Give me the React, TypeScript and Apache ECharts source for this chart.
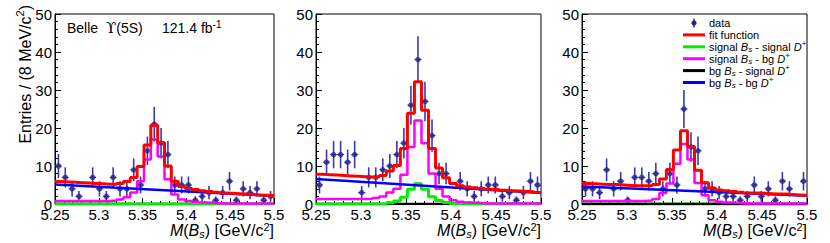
import React, { useEffect, useRef } from "react";
import * as echarts from "echarts";

// ---------- axis ranges ----------
const X_MIN = 5.25;
const X_MAX = 5.5;
const X_STEP = 0.05;
const Y_MIN = 0;
const Y_MAX = 50;
const Y_STEP = 10;

// ---------- panel 1 (32 bins, 5.25 - 5.50 GeV) ----------
const data1 = [10, 7, 4, 2, 0, 7, 4, 2, 7, 4, 4, 9, 5, 14, 21, 16, 13, 5, 5, 5, 1, 2, 3, 1, 3, 6, 1, 4, 3, 4, 1, 2];
const fit1 = [5.9, 5.8, 5.7, 5.6, 5.5, 5.4, 5.3, 5.2, 5.2, 5.4, 5.9, 7.0, 9.9, 15.5, 20.7, 16.1, 10.0, 6.0, 4.6, 4.1, 3.8, 3.5, 3.3, 3.1, 2.9, 2.8, 2.7, 2.6, 2.5, 2.4, 2.3, 2.2];
const sigSig1 = [0, 0, 0, 0, 0, 0, 0, 0, 0, 0, 0, 0, 0, 0, 0, 0, 0, 0, 0, 0, 0, 0, 0, 0, 0, 0, 0, 0, 0, 0, 0, 0];
const sigBg1 = [0.8, 0.8, 0.8, 0.8, 0.8, 0.8, 0.8, 0.8, 0.9, 1.2, 1.8, 3.0, 6.0, 11.7, 17.0, 12.5, 6.5, 2.5, 1.2, 0.8, 0.6, 0.4, 0.3, 0.2, 0.1, 0.1, 0.1, 0.1, 0.1, 0.1, 0.1, 0.1];
const bgSig1 = [0, 0, 0, 0, 0, 0, 0, 0, 0, 0, 0, 0, 0, 0, 0, 0, 0, 0, 0, 0, 0, 0, 0, 0, 0, 0, 0, 0, 0, 0, 0, 0];
const bgBg1 = [5.1, 2.1]; // values at 5.25 and 5.50

// ---------- panel 2 ----------
const data2 = [5, 11, 13, 13, 11, 13, 3, 7, 7, 9, 10, 13, 16, 26, 38, 27, 18, 8, 8, 0, 6, 4, 2, 4, 5, 5, 2, 3, 1, 3, 6, 5];
const fit2 = [7.8, 7.7, 7.6, 7.5, 7.4, 7.3, 7.2, 7.1, 7.2, 7.5, 8.7, 10.1, 14.6, 23.9, 32.2, 24.7, 14.6, 9.5, 6.9, 5.4, 4.8, 4.5, 4.3, 4.1, 3.9, 3.8, 3.6, 3.5, 3.4, 3.3, 3.2, 3.0];
const sigSig2 = [0, 0, 0, 0, 0, 0, 0, 0, 0, 0, 0.3, 0.8, 1.8, 3.9, 5.3, 3.9, 1.9, 0.9, 0.4, 0.1, 0, 0, 0, 0, 0, 0, 0, 0, 0, 0, 0, 0];
const sigBg2 = [1.3, 1.3, 1.3, 1.3, 1.3, 1.3, 1.3, 1.4, 1.6, 2.0, 3.0, 4.0, 7.7, 15.0, 22.0, 16.0, 8.0, 4.0, 2.0, 1.0, 0.6, 0.4, 0.3, 0.2, 0.1, 0.1, 0.1, 0.1, 0.1, 0.1, 0.1, 0.1];
const bgSig2 = [0, 0, 0, 0, 0, 0, 0, 0, 0, 0, 0, 0, 0, 0, 0, 0, 0, 0, 0, 0, 0, 0, 0, 0, 0, 0, 0, 0, 0, 0, 0, 0];
const bgBg2 = [6.6, 2.9];

// ---------- panel 3 ----------
const data3 = [4, 4, 3, 9, 4, 6, 1, 7, 7, 6, 8, 4, 8, 5, 25, 15, 14, 4, 4, 3, 2, 2, 1, 2, 5, 2, 4, 1, 6, 4, 0, 6];
const fit3 = [5.4, 5.3, 5.2, 5.1, 5.1, 5.0, 4.9, 4.8, 4.8, 4.8, 5.1, 6.6, 9.1, 14.2, 19.3, 15.1, 8.9, 5.6, 4.2, 3.7, 3.5, 3.3, 3.1, 2.9, 2.9, 2.8, 2.7, 2.6, 2.6, 2.5, 2.4, 2.3];
const sigSig3 = [0, 0, 0, 0, 0, 0, 0, 0, 0, 0, 0, 0, 0, 0, 0, 0, 0, 0, 0, 0, 0, 0, 0, 0, 0, 0, 0, 0, 0, 0, 0, 0];
const sigBg3 = [0.8, 0.8, 0.8, 0.8, 0.8, 0.8, 0.8, 0.8, 0.8, 0.9, 1.3, 2.9, 5.4, 10.6, 15.8, 11.7, 5.5, 2.3, 1.0, 0.6, 0.4, 0.3, 0.2, 0.1, 0.1, 0.1, 0.1, 0.1, 0.1, 0.1, 0.1, 0.1];
const bgSig3 = [0, 0, 0, 0, 0, 0, 0, 0, 0, 0, 0, 0, 0, 0, 0, 0, 0, 0, 0, 0, 0, 0, 0, 0, 0, 0, 0, 0, 0, 0, 0, 0];
const bgBg3 = [4.6, 2.2];

// ---------- texts ----------
const Y_TITLE = "Entries / (8 MeV/c{sup|2})";
const X_TITLE = "{i|M}({i|B}{sub|s}) [GeV/c{sup|2}]";
const BELLE = ["Belle", "{ups|\u03D2}(5S)", "121.4 fb{sup|-1}"];
const LEGEND = [
  "data",
  "fit function",
  "signal {i|B}{sub|s} - signal {i|D}{sup|+}",
  "signal {i|B}{sub|s} - bg {i|D}{sup|+}",
  "bg {i|B}{sub|s} - signal {i|D}{sup|+}",
  "bg {i|B}{sub|s} - bg {i|D}{sup|+}",
];

// ---------- styles ----------
const FONT = '"Liberation Sans", Arial, Helvetica, "DejaVu Sans", sans-serif';
const SERIF = '"DejaVu Serif", "Liberation Serif", serif';
const C_DATA = "#2b2487";
const C_ERR = "#3a3ab4";
const C_FIT = "#ff0000";
const C_SIGSIG = "#00ee00";
const C_SIGBG = "#ff00ff";
const C_BGSIG = "#000000";
const C_BGBG = "#0000ff";

const PANELS = [
  { left: 55, width: 219, data: data1, fit: fit1, sigSig: sigSig1, sigBg: sigBg1, bgSig: bgSig1, bgBg: bgBg1, blackTop: false },
  { left: 316, width: 225, data: data2, fit: fit2, sigSig: sigSig2, sigBg: sigBg2, bgSig: bgSig2, bgBg: bgBg2, blackTop: false },
  { left: 582, width: 225, data: data3, fit: fit3, sigSig: sigSig3, sigBg: sigBg3, bgSig: bgSig3, bgBg: bgBg3, blackTop: true },
];
const GRID_TOP = 14;
const GRID_H = 190;

function binWidth(n: number) {
  return (X_MAX - X_MIN) / n;
}
function stepData(vals: number[]) {
  const w = binWidth(vals.length);
  const pts = vals.map((v, k) => [X_MIN + k * w, v]);
  pts.push([X_MAX, vals[vals.length - 1]]);
  return pts;
}
function pointData(vals: number[]) {
  const w = binWidth(vals.length);
  return vals.map((v, k) => [X_MIN + (k + 0.5) * w, v]).filter((p) => p[1] > 0);
}

function rich(size: number, small: number, lh: number) {
  return {
    i: { fontStyle: "italic", fontSize: size, fontFamily: FONT, fill: "#000", lineHeight: lh },
    ups: { fontSize: size + 1, fontFamily: SERIF, fill: "#000", lineHeight: lh },
    sub: { fontStyle: "italic", fontSize: small, fontFamily: FONT, fill: "#000", verticalAlign: "bottom", lineHeight: small },
    sup: { fontSize: small, fontFamily: FONT, fill: "#000", verticalAlign: "top", lineHeight: small },
  };
}

function txt(x: number, y: number, text: string, size: number, small: number, align: string, vAlign: string, extra: any = {}, lhIn?: number) {
  const lh = lhIn || Math.round(size * 1.3);
  return {
    type: "text",
    x,
    y,
    silent: true,
    ...extra,
    style: {
      text,
      fill: "#000",
      fontSize: size,
      fontFamily: FONT,
      lineHeight: lh,
      align,
      verticalAlign: vAlign,
      textAlign: align,
      textVerticalAlign: vAlign,
      rich: rich(size, small, lh),
    },
  };
}

function lineSeries(i: number, name: string, d: any[], color: string, width: number, step: boolean) {
  return {
    type: "line",
    name,
    xAxisIndex: i,
    yAxisIndex: i,
    data: d,
    step: step ? "end" : false,
    symbol: "none",
    showSymbol: false,
    color,
    lineStyle: { color, width },
    silent: true,
    clip: true,
  };
}

function buildOption() {
  const grid: any[] = [];
  const xAxis: any[] = [];
  const yAxis: any[] = [];
  const series: any[] = [];
  const graphic: any[] = [];

  PANELS.forEach((p, i) => {
    grid.push({
      left: p.left,
      top: GRID_TOP,
      width: p.width,
      height: GRID_H,
      show: true,
      borderColor: "#000",
      borderWidth: 1,
      backgroundColor: "transparent",
      containLabel: false,
      outerBoundsMode: "none",
    });
    xAxis.push({
      type: "value",
      gridIndex: i,
      min: X_MIN,
      max: X_MAX,
      interval: X_STEP,
      axisLine: { show: true, lineStyle: { color: "#000", width: 1 } },
      axisTick: { show: true, inside: true, length: 6, lineStyle: { color: "#000" } },
      minorTick: { show: true, splitNumber: 5, length: 3, lineStyle: { color: "#000" } },
      splitLine: { show: false },
      minorSplitLine: { show: false },
      axisLabel: {
        color: "#000",
        fontSize: 15,
        lineHeight: 14,
        fontFamily: FONT,
        margin: 3,
        hideOverlap: false,
        formatter: (v: number) => String(Math.round(v * 100) / 100),
      },
    });
    yAxis.push({
      type: "value",
      gridIndex: i,
      min: Y_MIN,
      max: Y_MAX,
      interval: Y_STEP,
      axisLine: { show: true, lineStyle: { color: "#000", width: 1 } },
      axisTick: { show: true, inside: true, length: 6, lineStyle: { color: "#000" } },
      minorTick: { show: true, splitNumber: 5, length: 3, lineStyle: { color: "#000" } },
      splitLine: { show: false },
      minorSplitLine: { show: false },
      axisLabel: { color: "#000", fontSize: 15, fontFamily: FONT, margin: 3 },
    });

    const w = binWidth(p.data.length);
    const green = lineSeries(i, "signal Bs - signal D+", stepData(p.sigSig), C_SIGSIG, 3, true);
    const black = lineSeries(i, "bg Bs - signal D+", stepData(p.bgSig), C_BGSIG, 2.5, true);
    if (p.blackTop) series.push(green, black);
    else series.push(black, green);
    series.push(lineSeries(i, "signal Bs - bg D+", stepData(p.sigBg), C_SIGBG, 2.5, true));
    series.push(lineSeries(i, "bg Bs - bg D+", [[X_MIN, p.bgBg[0]], [X_MAX, p.bgBg[1]]], C_BGBG, 2.5, false));
    series.push(lineSeries(i, "fit function", stepData(p.fit), C_FIT, 3, true));
    series.push({
      type: "custom",
      name: "data errors",
      coordinateSystem: "cartesian2d",
      xAxisIndex: i,
      yAxisIndex: i,
      silent: true,
      clip: true,
      encode: { x: 0, y: 1 },
      data: pointData(p.data),
      renderItem: (_params: any, api: any) => {
        const x = api.value(0);
        const y = api.value(1);
        const e = Math.sqrt(y);
        const top = api.coord([x, y + e]);
        const bot = api.coord([x, Math.max(0, y - e)]);
        const l = api.coord([x - w / 2, y]);
        const r = api.coord([x + w / 2, y]);
        return {
          type: "group",
          children: [
            { type: "line", shape: { x1: top[0], y1: top[1], x2: bot[0], y2: bot[1] }, style: { stroke: C_ERR, lineWidth: 1.6 } },
            { type: "line", shape: { x1: l[0], y1: l[1], x2: r[0], y2: r[1] }, style: { stroke: C_ERR, lineWidth: 1.2 } },
          ],
        };
      },
    });
    series.push({
      type: "scatter",
      name: "data",
      xAxisIndex: i,
      yAxisIndex: i,
      data: pointData(p.data),
      symbol: "circle",
      symbolSize: 5.5,
      itemStyle: { color: C_DATA },
      silent: true,
    });

    graphic.push(txt(p.left + p.width, 230.5, X_TITLE, 16, 11, "right", "middle", {}, 18));
  });

  // y-axis title (panel 1)
  graphic.push(txt(25, 5, Y_TITLE, 16, 11, "right", "middle", { rotation: Math.PI / 2 }));

  // experiment label
  graphic.push(txt(67, 28, BELLE[0], 14, 10, "left", "middle"));
  graphic.push(txt(106, 28, BELLE[1], 14, 10, "left", "middle"));
  graphic.push(txt(162, 28, BELLE[2], 14, 10, "left", "middle"));

  // legend (panel 3)
  const LX0 = 683;
  const LX1 = 705;
  const LT = 709;
  const rowY = (k: number) => 23 + 11.9 * k;
  const legColors = [C_DATA, C_FIT, C_SIGSIG, C_SIGBG, C_BGSIG, C_BGBG];
  LEGEND.forEach((label, k) => {
    const y = rowY(k);
    if (k === 0) {
      graphic.push({ type: "line", silent: true, shape: { x1: (LX0 + LX1) / 2, y1: y - 4.5, x2: (LX0 + LX1) / 2, y2: y + 4.5 }, style: { stroke: C_ERR, lineWidth: 1.6 } });
      graphic.push({ type: "circle", silent: true, shape: { cx: (LX0 + LX1) / 2, cy: y, r: 2.6 }, style: { fill: C_DATA } });
    } else {
      graphic.push({ type: "line", silent: true, shape: { x1: LX0, y1: y, x2: LX1, y2: y }, style: { stroke: legColors[k], lineWidth: 3 } });
    }
    graphic.push(txt(LT, y, label, 11, 8, "left", "middle"));
  });

  return {
    animation: false,
    backgroundColor: "#ffffff",
    grid,
    xAxis,
    yAxis,
    series,
    graphic,
  };
}

export default function App() {
  const ref = useRef<HTMLDivElement>(null);
  useEffect(() => {
    if (!ref.current) return;
    const chart = echarts.init(ref.current, null, { renderer: "svg" });
    chart.setOption(buildOption() as any);
    return () => chart.dispose();
  }, []);
  return (
    <div
      ref={ref}
      style={{ position: "absolute", left: 0, top: 0, width: 830, height: 243, background: "#fff" }}
    />
  );
}
